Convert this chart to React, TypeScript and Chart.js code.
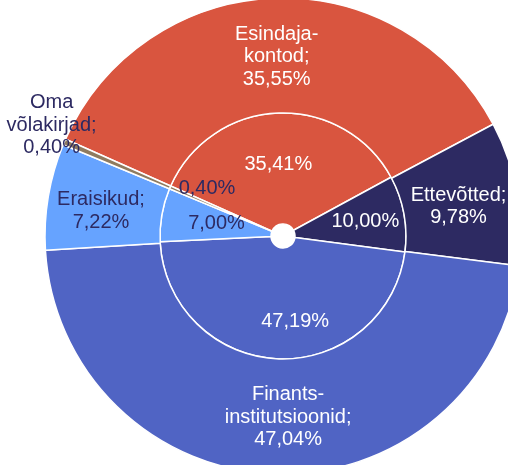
import React, { useEffect, useRef } from 'react';
import { Chart, registerables } from 'chart.js';

Chart.register(...registerables);

const categories = ['Esindajakontod', 'Ettevõtted', 'Finantsinstitutsioonid', 'Eraisikud', 'Oma võlakirjad'];
const outerLabelLines = [['Esindaja-', 'kontod;'], ['Ettevõtted;'], ['Finants-', 'institutsioonid;'], ['Eraisikud;'], ['Oma', 'võlakirjad;']];
const outerValues = [35.55, 9.78, 47.04, 7.22, 0.4];
const innerValues = [35.41, 10.0, 47.19, 7.0, 0.4];
const sliceColors = ['#d9553f', '#2d2a62', '#5064c4', '#66a3ff', '#8f7b5f'];
const textColors = ['#ffffff', '#ffffff', '#ffffff', '#2d2a62', '#2d2a62'];

// label nudges (style) relative to each slice's centroid
const outerNudge = [[0, 1], [-2, 3], [11, 1], [-4, 5], [1, -11]];
const innerNudge = [[-2, -4], [16, -2], [15, 18], [0, -1], [-14, -21]];

const fmt = (v: number) => v.toFixed(2).replace('.', ',') + '%';

const FONT = '20px "Liberation Sans", Arial, sans-serif';
const LINE_H = 22.5;

const labelPlugin = {
  id: 'sliceLabels',
  afterDatasetsDraw(chart: any) {
    const ctx = chart.ctx;
    ctx.save();
    ctx.font = FONT;
    ctx.textAlign = 'center';
    ctx.textBaseline = 'middle';
    chart.data.datasets.forEach((ds: any, di: number) => {
      const meta = chart.getDatasetMeta(di);
      meta.data.forEach((arc: any, i: number) => {
        const p = arc.getProps(['x', 'y', 'startAngle', 'endAngle', 'innerRadius', 'outerRadius'], true);
        const mid = (p.startAngle + p.endAngle) / 2;
        const small = (p.endAngle - p.startAngle) < 0.1;
        let r = (p.innerRadius + p.outerRadius) / 2;
        let color = textColors[i];
        if (di === 0 && small) {
          r = p.outerRadius + 15;
          color = '#2d2a62';
        }
        const nudge = di === 0 ? outerNudge[i] : innerNudge[i];
        const lines = di === 0 ? [...outerLabelLines[i], fmt(ds.data[i])] : [fmt(ds.data[i])];
        const cx = p.x + Math.cos(mid) * r + nudge[0];
        const cy = p.y + Math.sin(mid) * r + nudge[1];
        ctx.fillStyle = color;
        const y0 = cy - ((lines.length - 1) * LINE_H) / 2;
        lines.forEach((t: string, k: number) => ctx.fillText(t, cx, y0 + k * LINE_H));
      });
    });
    ctx.restore();
  },
};

export default function App() {
  const ref = useRef<HTMLCanvasElement>(null);
  useEffect(() => {
    if (!ref.current) return;
    const chart = new Chart(ref.current, {
      type: 'doughnut',
      data: {
        labels: categories,
        datasets: [
          {
            data: outerValues,
            backgroundColor: sliceColors,
            borderColor: '#ffffff',
            borderWidth: 1.5,
            weight: 115,
          },
          {
            data: innerValues,
            backgroundColor: sliceColors,
            borderColor: '#ffffff',
            borderWidth: 1.5,
            weight: 111,
          },
        ],
      } as any,
      options: {
        animation: false,
        responsive: false,
        devicePixelRatio: 1,
        rotation: -66,
        radius: 238,
        cutout: '5.04%',
        layout: { padding: { left: 58, top: 7, right: 0, bottom: 0 } },
        plugins: { legend: { display: false }, tooltip: { enabled: false } },
        events: [],
      } as any,
      plugins: [labelPlugin],
    });
    return () => chart.destroy();
  }, []);
  return (
    <div style={{ position: 'fixed', left: 0, top: 0, width: 508, height: 465, overflow: 'hidden', background: '#fff' }}>
      <canvas ref={ref} width={508} height={465} style={{ display: 'block', width: 508, height: 465 }} />
    </div>
  );
}
